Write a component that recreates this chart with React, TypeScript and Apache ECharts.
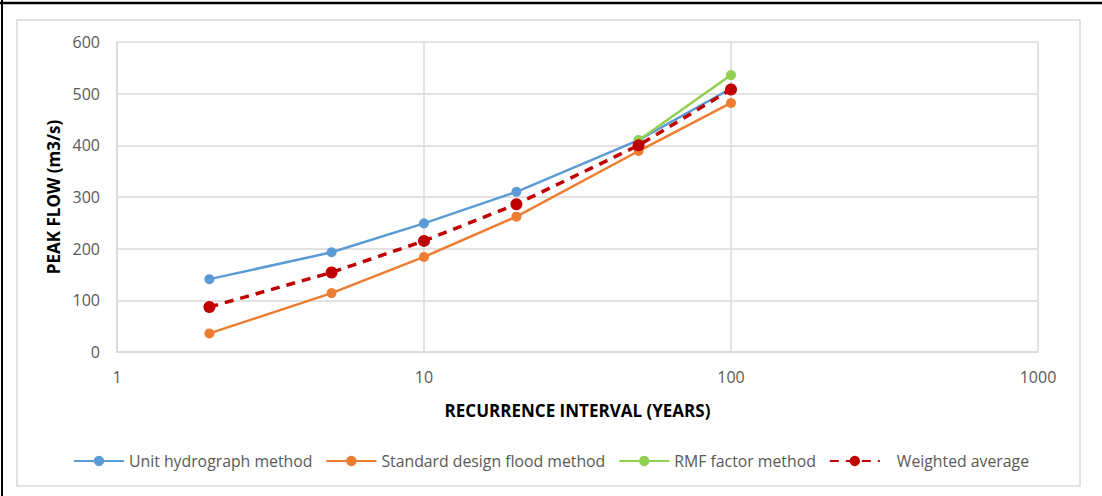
import React, { useEffect, useRef } from "react";
import * as echarts from "echarts";

const years = [2, 5, 10, 20, 50, 100];
const unitHydrograph = [141, 193, 249, 310, 410, 510];
const standardDesign = [36, 114, 184, 262, 389, 482];
const rmfFactor = [null, null, null, null, 410, 536];
const weightedAvg = [87, 154, 215, 286, 400, 508];
const seriesNames = ["Unit hydrograph method", "Standard design flood method", "RMF factor method", "Weighted average"];
const colors = ["#5B9BD5", "#ED7D31", "#92D050", "#C00000"];

const FONT = "'Open Sans', sans-serif";

export default function App() {
  const ref = useRef<HTMLDivElement>(null);
  useEffect(() => {
    document.body.style.margin = "0";
    const chart = echarts.init(ref.current!, null, { renderer: "svg" });
    const mk = (vals: (number | null)[]) => years.map((x, i) => [x, vals[i]]);
    const lineSeries = (name: string, vals: (number | null)[], color: string, dashed = false) => ({
      name,
      type: "line",
      data: mk(vals),
      symbol: "circle",
      symbolSize: dashed ? 12 : 10,
      showSymbol: true,
      connectNulls: false,
      itemStyle: { color },
      lineStyle: { color, width: dashed ? 3.5 : 2.5, type: dashed ? [9, 7] : "solid" },
      z: dashed ? 5 : 3,
    });
    chart.setOption({
      animation: false,
      textStyle: { fontFamily: FONT },
      grid: { left: 117, right: 64, top: 42, bottom: 144, containLabel: false },
      xAxis: {
        type: "log",
        logBase: 10,
        min: 1,
        max: 1000,
        name: "RECURRENCE INTERVAL (YEARS)",
        nameLocation: "middle",
        nameGap: 50,
        nameTextStyle: { fontFamily: FONT, fontWeight: "bold", fontSize: 17, color: "#000" },
        axisLine: { show: true, lineStyle: { color: "#d9d9d9", width: 1.5 } },
        axisTick: { show: false },
        minorTick: { show: false },
        axisLabel: { color: "#595959", fontSize: 16, margin: 17, fontFamily: FONT, formatter: (v: number) => String(Math.round(v)) },
        splitLine: { show: true, lineStyle: { color: "#d9d9d9", width: 1.5 } },
      },
      yAxis: {
        type: "value",
        min: 0,
        max: 600,
        interval: 100,
        name: "PEAK FLOW (m3/s)",
        nameLocation: "middle",
        nameGap: 51,
        nameTextStyle: { fontFamily: FONT, fontWeight: "bold", fontSize: 17, color: "#000" },
        axisLine: { show: true, lineStyle: { color: "#d9d9d9", width: 1.5 } },
        axisTick: { show: false },
        axisLabel: { color: "#595959", fontSize: 16, margin: 17, fontFamily: FONT },
        splitLine: { show: true, lineStyle: { color: "#d9d9d9", width: 1.5 } },
      },
      legend: {
        data: seriesNames.map((n, i) =>
          i === 3 ? { name: n, textStyle: { padding: [0, 0, 0, 12] } } : { name: n }
        ),
        bottom: 22,
        left: "center",
        itemWidth: 50,
        itemHeight: 13,
        itemGap: 13,
        textStyle: { color: "#595959", fontSize: 15.8, fontFamily: FONT },
      },
      graphic: [
        { type: "rect", shape: { x: 17, y: 20, width: 1063, height: 466 }, style: { fill: "none", stroke: "#d9d9d9", lineWidth: 1.5 }, silent: true },
        { type: "line", shape: { x1: 0, y1: 3, x2: 1102, y2: 3 }, style: { stroke: "#000", lineWidth: 2.5 }, silent: true },
        { type: "line", shape: { x1: 2, y1: 0, x2: 2, y2: 496 }, style: { stroke: "#000", lineWidth: 2 }, silent: true },
      ],
      series: [
        lineSeries(seriesNames[0], unitHydrograph, colors[0]),
        lineSeries(seriesNames[1], standardDesign, colors[1]),
        lineSeries(seriesNames[2], rmfFactor, colors[2]),
        lineSeries(seriesNames[3], weightedAvg, colors[3], true),
      ],
    });
    return () => chart.dispose();
  }, []);
  return <div ref={ref} style={{ position: "absolute", left: 0, top: 0, width: 1102, height: 496 }} />;
}
